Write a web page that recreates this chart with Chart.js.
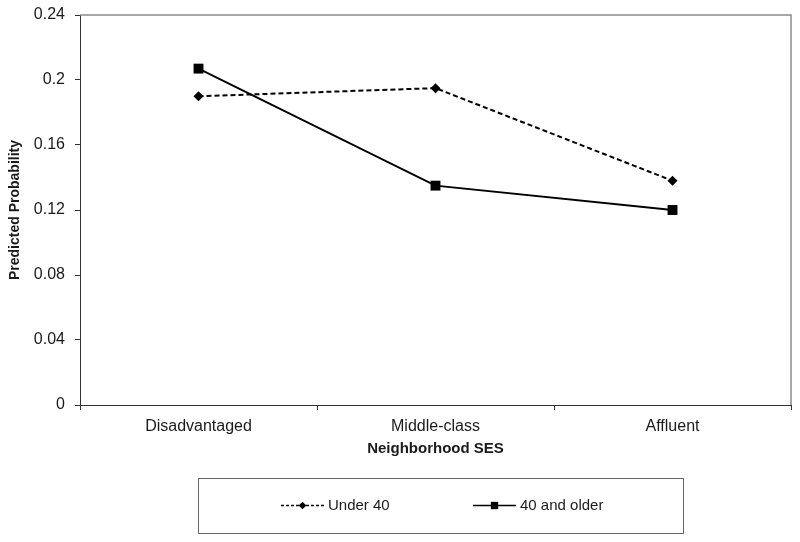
<!DOCTYPE html>
<html>
<head>
<meta charset="utf-8">
<script src="https://cdn.jsdelivr.net/npm/chart.js@4/dist/chart.umd.min.js"></script>
<style>
  html, body { margin: 0; padding: 0; background: #fff; }
  #wrap { width: 800px; height: 542px; position: relative; }
  canvas { display: block; }
</style>
</head>
<body>
<div id="wrap"><canvas id="c" width="800" height="542"></canvas></div>
<script>
const categories = ['Disadvantaged', 'Middle-class', 'Affluent'];
const under40 = [0.190, 0.195, 0.138];
const over40 = [0.207, 0.135, 0.120];
const seriesNames = ['Under 40', '40 and older'];
const yTickLabels = ['0', '0.04', '0.08', '0.12', '0.16', '0.2', '0.24'];
const xTitle = 'Neighborhood SES';
const yTitle = 'Predicted Probability';

const FONT = '"Liberation Sans", Arial, sans-serif';
const INK = '#1a1a1a';

const framePlugin = {
  id: 'frame',
  afterDatasetsDraw(chart) {
    const { ctx, chartArea: a } = chart;
    ctx.save();
    ctx.strokeStyle = '#8a8a8a';
    ctx.lineWidth = 1.5;
    ctx.beginPath();
    ctx.moveTo(a.left, a.top);
    ctx.lineTo(a.right, a.top);
    ctx.lineTo(a.right, a.bottom);
    ctx.stroke();
    ctx.restore();
  }
};

function drawMarker(ctx, style, x, y, r) {
  ctx.beginPath();
  if (style === 'rect') {
    const s = Math.SQRT1_2 * r;
    ctx.rect(x - s, y - s, 2 * s, 2 * s);
  } else {
    ctx.moveTo(x, y - r);
    ctx.lineTo(x + r, y);
    ctx.lineTo(x, y + r);
    ctx.lineTo(x - r, y);
    ctx.closePath();
  }
  ctx.fill();
}

const legendPlugin = {
  id: 'boxLegend',
  afterDraw(chart) {
    const { ctx } = chart;
    const box = { x: 198, y: 478, w: 485, h: 55 };
    const cy = box.y + box.h / 2;
    const items = [
      { x0: 281, x1: 324, tx: 328, r: 3.8, dash: [3, 2] },
      { x0: 473, x1: 516, tx: 520, r: 5.2, dash: [] }
    ];
    ctx.save();
    ctx.strokeStyle = '#666';
    ctx.lineWidth = 1;
    ctx.strokeRect(box.x + 0.5, box.y + 0.5, box.w, box.h);
    chart.data.datasets.forEach((ds, i) => {
      const it = items[i];
      ctx.strokeStyle = ds.borderColor;
      ctx.fillStyle = ds.pointBackgroundColor;
      ctx.lineWidth = 1.3;
      ctx.setLineDash(it.dash);
      ctx.beginPath();
      ctx.moveTo(it.x0, cy);
      ctx.lineTo(it.x1, cy);
      ctx.stroke();
      ctx.setLineDash([]);
      drawMarker(ctx, ds.pointStyle, (it.x0 + it.x1) / 2, cy, it.r);
      ctx.fillStyle = INK;
      ctx.font = '15px ' + FONT;
      ctx.textBaseline = 'middle';
      ctx.textAlign = 'left';
      ctx.fillText(ds.label, it.tx, cy);
    });
    ctx.restore();
  }
};

new Chart(document.getElementById('c'), {
  type: 'line',
  data: {
    labels: categories,
    datasets: [
      {
        label: seriesNames[0],
        data: under40,
        borderColor: '#000',
        borderWidth: 2,
        borderDash: [5, 3],
        pointStyle: 'rectRot',
        pointRadius: 5,
        pointHoverRadius: 5,
        pointBackgroundColor: '#000',
        pointBorderColor: '#000',
        pointBorderWidth: 0,
        tension: 0,
        fill: false
      },
      {
        label: seriesNames[1],
        data: over40,
        borderColor: '#000',
        borderWidth: 2,
        pointStyle: 'rect',
        pointRadius: 7,
        pointHoverRadius: 7,
        pointBackgroundColor: '#000',
        pointBorderColor: '#000',
        pointBorderWidth: 0,
        tension: 0,
        fill: false
      }
    ]
  },
  options: {
    responsive: false,
    maintainAspectRatio: false,
    animation: false,
    devicePixelRatio: 1,
    layout: { autoPadding: false, padding: { top: 15, right: 9, bottom: 77, left: 0 } },
    plugins: {
      legend: { display: false },
      tooltip: { enabled: false }
    },
    scales: {
      x: {
        type: 'category',
        offset: true,
        grid: { display: true, offset: true, drawOnChartArea: false, drawTicks: true, tickLength: 5, color: '#333', lineWidth: 1 },
        border: { display: true, color: '#333', width: 1 },
        ticks: { color: INK, font: { family: FONT, size: 16 }, padding: 7, maxRotation: 0 },
        title: { display: true, text: xTitle, color: INK, font: { family: FONT, size: 15, weight: 'bold' }, padding: { top: 0, bottom: 7 } },
        afterFit(scale) { scale.height = 60; scale.paddingLeft = 0; scale.paddingRight = 0; }
      },
      y: {
        min: 0,
        max: 0.24,
        ticks: {
          stepSize: 0.04,
          color: INK,
          font: { family: FONT, size: 16 },
          padding: 10,
          callback: (v, i) => yTickLabels[i]
        },
        grid: { display: true, drawOnChartArea: false, drawTicks: true, tickLength: 5, color: '#333', lineWidth: 1 },
        border: { display: true, color: '#333', width: 1 },
        title: { display: true, text: yTitle, color: INK, font: { family: FONT, size: 14, weight: 'bold' }, padding: { top: 7, bottom: 0 } },
        afterFit(scale) { scale.width = 80; scale.paddingTop = 0; scale.paddingBottom = 0; }
      }
    }
  },
  plugins: [framePlugin, legendPlugin]
});
</script>
</body>
</html>
